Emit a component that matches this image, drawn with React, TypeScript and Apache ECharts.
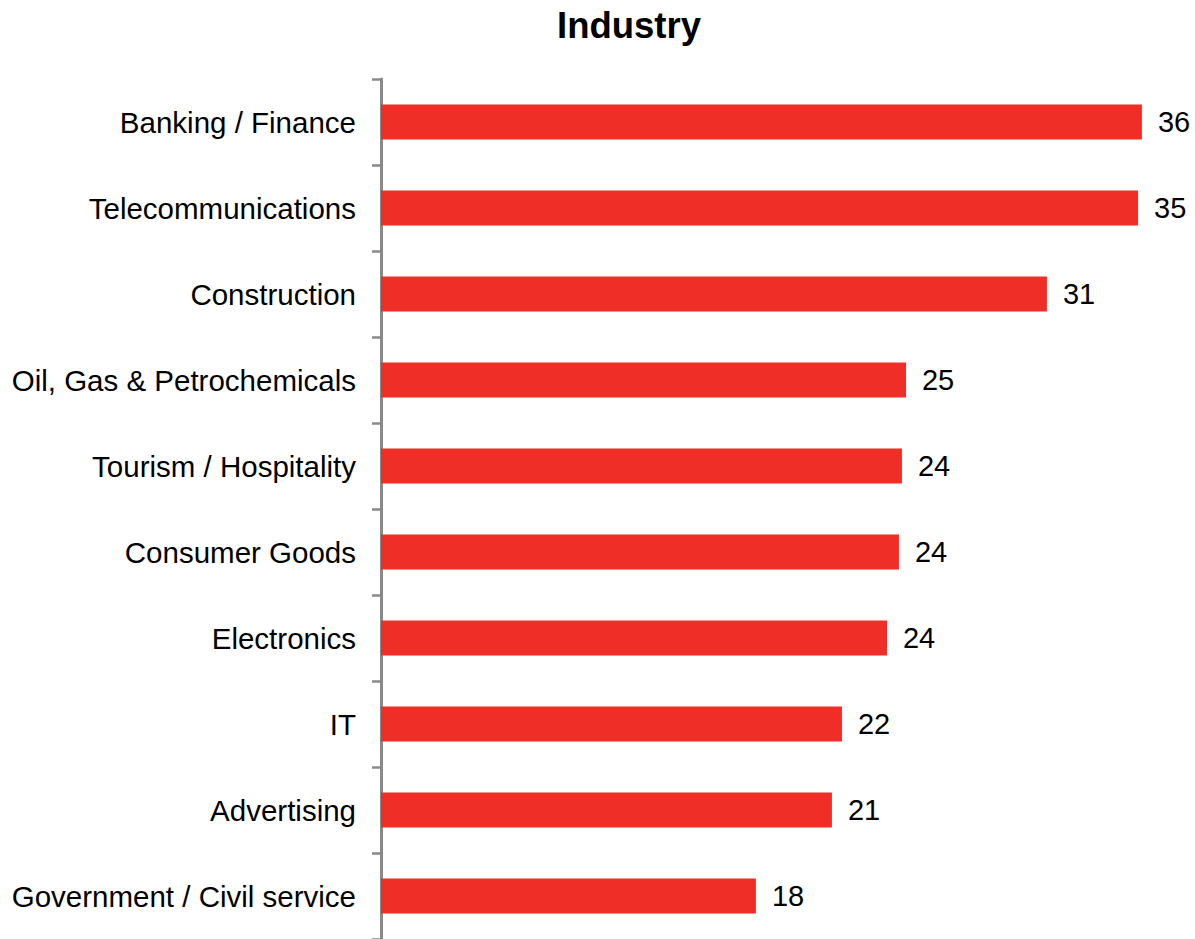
import React, { useEffect, useRef } from "react";
import * as echarts from "echarts";

const categories = [
  "Banking / Finance",
  "Telecommunications",
  "Construction",
  "Oil, Gas & Petrochemicals",
  "Tourism / Hospitality",
  "Consumer Goods",
  "Electronics",
  "IT",
  "Advertising",
  "Government / Civil service",
];
const values = [35.64, 35.46, 31.19, 24.59, 24.4, 24.26, 23.7, 21.59, 21.12, 17.56];
const titleText = "Industry";

const FONT = "Arial, 'Liberation Sans', sans-serif";

export default function App() {
  const ref = useRef<HTMLDivElement>(null);
  useEffect(() => {
    if (!ref.current) return;
    const chart = echarts.init(ref.current, undefined, { renderer: "svg" });
    chart.setOption({
      animation: false,
      backgroundColor: "#ffffff",
      title: {
        text: titleText,
        left: 624,
        top: 2,
        textAlign: "center",
        textStyle: { fontFamily: FONT, fontSize: 36.5, fontWeight: "bold", color: "#000" },
      },
      grid: { left: 381, top: 79, width: 36 * 21.35, height: 860 },
      xAxis: { type: "value", min: 0, max: 36, show: false },
      yAxis: {
        type: "category",
        inverse: true,
        data: categories,
        axisLine: { show: true, lineStyle: { color: "#898989", width: 3 } },
        axisTick: { show: true, length: 9, lineStyle: { color: "#898989", width: 2.5 } },
        axisLabel: { margin: 25, fontFamily: FONT, fontSize: 29.5, color: "#000" },
        splitLine: { show: false },
      },
      series: [
        {
          type: "bar",
          data: values,
          barWidth: 35,
          itemStyle: { color: "#ee2e27" },
          label: {
            show: true,
            position: "right",
            distance: 16,
            fontFamily: FONT,
            fontSize: 29,
            color: "#000",
            formatter: (p: any) => String(Math.round(p.value)),
          },
        },
      ],
    });
    return () => chart.dispose();
  }, []);
  return (
    <div
      ref={ref}
      style={{ position: "absolute", left: 0, top: 0, width: 1195, height: 939 }}
    />
  );
}
